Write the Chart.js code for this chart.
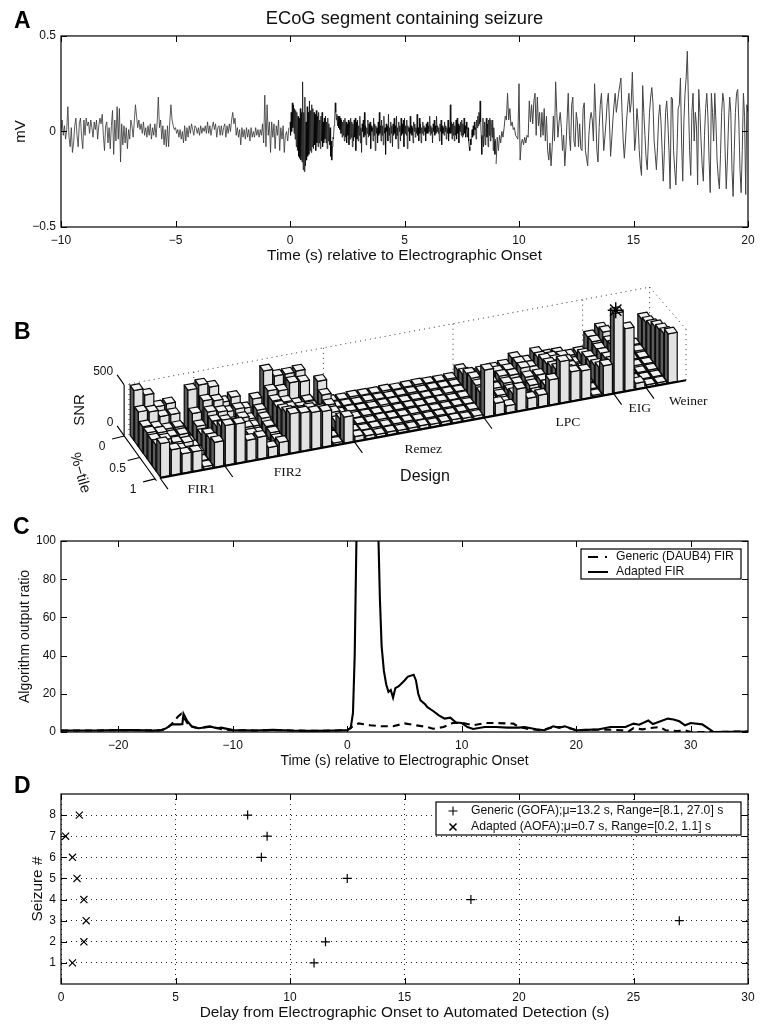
<!DOCTYPE html>
<html lang="en">
<head>
<meta charset="UTF-8">
<title>ECoG segment containing seizure</title>
<script src="https://cdn.jsdelivr.net/npm/chart.js"></script>
<style>
    html, body { margin: 0; padding: 0; background: #fff; overflow: hidden; }
    canvas { position: absolute; left: 0; display: block; }
    #chartA { top: 0; }
    #chartB { top: 270px; }
    #chartC { top: 510px; }
    #chartD { top: 770px; }
    .tag { position: absolute; font: bold 23px/23px "Liberation Sans", Arial, sans-serif; color: #000; }
</style>
</head>
<body>
<canvas id="chartA" width="770" height="270"></canvas>
<canvas id="chartB" width="770" height="240"></canvas>
<canvas id="chartC" width="770" height="260"></canvas>
<canvas id="chartD" width="770" height="263"></canvas>
<div class="tag" style="left:14px;top:9px">A</div>
<div class="tag" style="left:14px;top:320px">B</div>
<div class="tag" style="left:13px;top:515px">C</div>
<div class="tag" style="left:14px;top:774px">D</div>

<script>
// Panel A: ECoG trace in three stretches, one line per second of recording
const ecogEarlyStart = -10, ecogEarlyStep = 0.05;
const ecogEarly = [
    0,.06,-.02,.03,-.04,.01,.13,-.03,-.08,.02,-.11,-.06,.03,.07,-.02,-.08,.04,.07,-.03,-.09,
    .06,-.02,.07,.03,.05,-.01,.06,.02,-.03,.05,.01,.06,-.04,.03,.07,.04,.09,-.02,-.1,.03,
    .05,-.06,.02,-.09,.03,.11,-.12,.06,-.05,.13,-.04,.12,-.16,.04,-.07,.03,-.06,.02,-.09,.01,
    -.04,.06,.03,-.03,.05,.14,.08,.02,.06,.01,.04,-.01,.05,-.02,.02,-.03,.03,-.02,.04,-.04,
    .02,-.02,.04,-.03,.05,.18,.02,.06,-.04,.03,-.07,.01,-.08,.03,-.08,.05,.14,.06,.03,.01,
    .02,-.01,.01,-.03,.01,-.04,0,-.06,.03,-.05,.02,-.03,.03,-.01,.04,.01,-.02,.03,.02,-.01,
    .02,-.02,.03,-.01,.02,0,.03,-.01,.05,-.01,.03,-.02,.02,.05,.01,.04,-.03,.02,.03,-.02,
    .03,-.02,.02,.04,-.03,.03,-.01,.04,0,.06,.1,.04,.07,-.02,.02,-.03,.01,-.07,.02,-.03,
    .01,-.04,.02,-.03,.01,-.05,.02,-.03,0,-.03,.02,-.02,.01,-.03,.01,-.02,.04,-.06,.19,-.08,
    .14,-.02,.05,-.11,.05,-.03,.04,-.09,.03,-.02,.06,-.1,.02,-.04,.03,-.11,-.02,0,-.05,.02
];
const ecogDenseStart = 0, ecogDenseStep = 0.025;
const ecogDense = [
    .05,-.02,.1,0,.15,.02,.14,-.01,.12,-.04,.11,-.08,.1,-.1,.08,-.13,.07,-.14,.12,-.15,.1,-.16,.26,-.2,.1,-.21,.18,-.18,.05,-.15,.13,-.13,.1,-.12,.16,-.1,.11,-.11,.14,-.08,
    .12,-.09,.1,-.07,.09,-.1,.11,-.06,.08,-.08,.1,-.06,.06,-.09,.08,-.05,.1,-.08,.05,-.06,.07,-.04,.08,-.06,.05,-.09,.07,-.05,.04,-.07,.02,-.13,-.05,-.15,-.08,-.03,-.04,.03,.06,.15,
    .1,.06,.09,.03,.08,.02,.08,.01,.07,-.01,.06,-.03,.05,-.02,.06,-.05,.07,-.03,.05,-.06,.04,-.02,.06,-.07,.05,-.04,.07,-.03,.05,-.08,.04,-.05,.06,-.03,.07,-.1,.05,-.04,.06,-.05,
    .03,-.02,.08,-.06,.02,-.11,.04,0,.06,-.03,.1,-.02,.03,-.07,.02,-.01,.06,-.03,.04,-.02,.05,-.09,.03,0,.02,-.05,.07,-.02,.04,-.1,.03,-.01,.02,-.06,.05,-.02,.1,-.01,.03,-.05,
    .06,-.02,.03,-.07,.08,-.01,.02,-.12,.04,0,.03,-.05,.09,-.02,.02,-.06,.05,-.01,.03,-.08,.04,-.02,.07,-.01,.03,-.04,.08,-.02,.02,-.09,.05,0,.03,-.05,.07,-.02,.04,-.01,.06,-.08,
    .07,-.01,.03,-.02,.06,-.09,.03,0,.02,-.05,.08,-.01,.03,-.02,.02,-.06,.05,0,.04,-.03,.02,-.01,.09,-.02,.02,-.05,.07,-.01,.04,-.06,.02,-.01,.05,-.02,.03,0,.02,-.05,.04,-.01,
    .05,-.01,.03,0,.08,-.02,.03,-.01,.02,-.06,.04,0,.06,-.02,.03,-.01,.08,0,.03,-.01,.02,-.05,.04,0,.06,-.07,.03,-.01,.02,-.02,.05,0,.03,-.04,.02,-.01,.06,-.05,.02,-.01,
    .14,-.01,.05,-.04,.04,-.02,.05,-.05,.03,-.02,.06,-.04,.07,-.01,.04,-.06,.03,0,.05,-.02,.06,-.03,.04,-.02,.07,-.01,.03,-.03,.05,.01,-.03,.02,-.05,-.08,-.1,-.04,-.07,-.02,.01,-.03,
    .03,-.02,.05,.01,.02,-.04,.06,.02,.08,.03,.1,.04,.16,.05,-.02,-.12,-.03,.07,-.08,-.02,.05,-.07,.02,.07,-.03,.04,-.08,.06,-.02,.07,-.05,.06,.02,-.03,.06,-.1,.02,-.05,-.12,-.04
];
const ecogLateStart = 9, ecogLateStep = 0.05;
const ecogLate = [
    -.17,-.03,-.1,-.02,-.06,0,-.03,.02,.08,.06,.2,.06,.12,.03,.05,.01,.02,-.02,-.03,-.04,
    .25,-.15,-.06,-.04,-.07,-.03,-.06,-.02,-.03,.16,.05,.14,.04,.16,.2,-.02,.18,.03,.1,-.03,
    .1,-.02,.12,-.05,.08,-.1,-.15,-.06,-.18,-.08,.08,-.05,.26,.1,-.03,.05,.1,.02,-.1,-.02,
    -.18,-.08,.06,.2,-.02,-.1,.14,.18,-.05,-.08,.1,.05,-.08,.04,-.09,-.1,.12,.15,-.1,-.14,
    -.18,-.02,.06,.1,.06,-.05,.25,.1,-.1,-.16,.02,.14,.2,.06,-.1,-.03,.05,.15,.2,.05,
    -.13,-.04,.06,.14,.2,.1,.15,.2,.24,.28,.1,-.05,-.14,-.05,.06,.14,.2,.1,.15,.31,
    .1,-.1,-.03,.12,.05,-.1,-.18,-.23,.24,.1,-.02,-.14,-.2,-.05,.1,.18,.23,.15,-.05,-.12,
    -.2,-.08,.08,.14,.05,-.1,-.26,-.1,.1,.16,.05,-.1,-.3,.18,.17,-.1,-.2,-.28,-.1,.12,
    .14,.28,-.05,-.26,.05,.2,.28,.42,.15,-.1,-.23,.1,.2,-.05,.1,.03,-.28,.22,.1,-.05,
    -.18,-.26,-.02,.12,.2,.08,-.15,-.32,.2,.1,-.05,.2,.05,-.15,-.24,-.3,-.12,.1,.2,.15,
    -.1,-.3,-.15,.05,.18,.1,-.2,-.34,-.1,.1,.2,.22,.05,-.2,-.32,-.1,.2,.08,-.33,.14,
    .1
];
const ecogTimeTicks = [-10, -5, 0, 5, 10, 15, 20];
const ecogVoltTicks = [-0.5, 0, 0.5];

// Panel B: SNR per design (columns) and percentile row, back row first
const designNames = ["FIR1", "FIR2", "Remez", "LPC", "EIG", "Weiner"];
const designCenters = [3, 12, 24, 36, 43.5, 46.5];
const designTicks = [0, 6, 18, 30, 42, 45];
const percentileTicks = [0, 0.5, 1];
const snrTicks = [0, 500];
const snrRow0 = [490,425,290,300,30,395, 425,385,215,245,115,190,445,375,375,385,50,245, 28,26,33,30,28,32,26,30,33,28,26,30, 95,30,40,50,60,115,60,125,80,80,40,50, 190,245,40, 30,30,265];
const snrRow1 = [340,320,255,255,30,225, 330,310,180,190,70,140,310,290,350,340,35,170, 30,28,26,32,30,26,28,32,26,30,28,26, 120,40,50,80,80,130,70,140,120,110,30,90, 200,275,30, 25,30,290];
const snrRow2 = [255,225,190,190,30,160, 280,260,130,160,60,120,270,240,200,210,30,130, 26,32,28,26,33,30,26,28,30,26,32,28, 180,50,60,100,90,140,80,180,150,130,25,130, 190,240,30, 25,25,320];
const snrRow3 = [255,235,180,180,40,140, 250,230,110,130,50,100,270,240,220,210,25,120, 32,26,30,28,26,28,33,26,28,32,26,30, 200,50,60,90,70,110,110,200,170,130,25,140, 200,260,25, 25,25,370];
const snrRow4 = [245,225,180,160,50,200, 260,240,100,120,50,100,300,260,250,240,20,90, 28,30,26,33,28,26,30,32,26,28,30,26, 190,60,50,80,50,90,120,230,190,150,20,170, 220,300,25, 20,25,400];
const snrRow5 = [255,190,170,130,20,215, 320,290,140,120,45,90,340,320,330,300,20,180, 40,28,32,26,30,33,26,28,32,26,28,32, 180,40,40,110,40,70,130,270,230,180,15,210, 240,350,25, 20,20,425];
const snrRow6 = [330,250,190,190,25,245, 390,385,205,215,95,125,385,375,360,350,20,255, 45,33,26,30,26,28,32,26,30,33,26,28, 460,115,70,215,105,115,245,405,285,275,15,285, 780,610,55, 20,20,480];
const snrRows = [snrRow0, snrRow1, snrRow2, snrRow3, snrRow4, snrRow5, snrRow6];

// Panel C: algorithm output ratio
const adaptedTimes = [-25,-22,-20,-18.5,-17,-16.2,-15.8,-15.3,-14.6,-14.4,-14.3,-14,-13.6,-13,-12.3,-11.9,-11.4,-11,-10,-8,-6.5,-5,-3,-1,0,.3,.5,.65,.8,1,2.5,2.73,2.85,3,3.2,3.4,3.6,3.8,4,4.2,4.5,5,5.3,5.8,6,6.2,6.4,6.8,7,7.5,8,8.5,9,9.5,10,10.5,11,12,13,14,15,15.5,16.5,17.2,18,18.5,19,20,21,22,23,24.3,25,25.5,26.3,26.7,27,28,28.5,29,29.5,30,31,31.5,32,35];
const adaptedValues = [.8,.8,1,1,.7,1,2,4,4,4.2,9.5,6,3,2,2.5,2.8,2,2.3,1,.8,1.2,.8,.6,.8,1,2,10,40,100,220,160,100,70,45,32,25,21,22,18,23,24,27,29,30,27,20,16.6,14.5,13,11,8.7,7,7.5,5,4.7,2.6,1.6,2.6,2.6,2.3,2.3,2.6,1.4,.9,3,2.2,3,.9,1.1,1.4,2.6,2.6,4.4,3.8,6,4.2,4.8,7,6.5,5.6,3.5,4.7,4,2,0,.3];
const genericTimes = [-25,-22,-20,-18,-16.5,-15.8,-15.2,-14.8,-14.5,-14.2,-13.8,-13,-12,-11,-10,-8,-6,-4,-2,0,.5,1,1.5,2,3,4,5,6,7,7.5,8.4,9.2,10,11,12,13,14.5,15,16,17,18,19,20,21,23,24,24.5,25,25.8,26.4,27.3,27.8,28.8,29.5,30,32,35];
const genericValues = [.8,.8,1,.9,.8,1.5,5,8,9.5,7,3,2,3,1.5,1,.8,1,.7,.6,1,3,4.5,4,3.5,3,3,4.5,3.5,2.6,1.7,2.6,4.7,4.8,3.5,4.7,4.7,4.4,2.6,1.4,.9,2.6,2.6,.9,1.2,1.2,.9,0,2,1.4,2,2.6,.9,.5,.9,0,0,.3];
const ratioTimeTicks = [-20, -10, 0, 10, 20, 30];
const ratioTicks = [0, 20, 40, 60, 80, 100];
const ratioLegend = ["Generic (DAUB4) FIR", "Adapted FIR"];

// Panel D: detection delay per seizure
const seizureNumbers = [1, 2, 3, 4, 5, 6, 7, 8];
const genericDelays = [11.05, 11.55, 27.0, 17.9, 12.5, 8.75, 9.0, 8.15];
const adaptedDelays = [0.5, 1.0, 1.1, 1.0, 0.7, 0.5, 0.2, 0.8];
const delayTicks = [0, 5, 10, 15, 20, 25, 30];
const delayLegend = ["Generic (GOFA);\u03bc=13.2 s, Range=[8.1, 27.0] s", "Adapted (AOFA);\u03bc=0.7 s, Range=[0.2, 1.1] s"];

const sans = '"Liberation Sans", Arial, sans-serif';
const serif = '"Liberation Serif", "Times New Roman", serif';
Chart.defaults.animation = false;
Chart.defaults.responsive = false;
Chart.defaults.devicePixelRatio = 1;
Chart.defaults.color = "#111";
Chart.defaults.font.family = sans;
Chart.defaults.plugins.legend.display = false;
Chart.defaults.plugins.tooltip.enabled = false;

const minusLabel = v => (v < 0 ? "\u2212" + Math.abs(v) : String(v));

// fixed-size axis so the plot box lands where the reference has it
function makeAxis(o) {
    const axis = {
        type: "linear",
        min: o.min,
        max: o.max,
        grid: { display: false, drawTicks: false },
        border: { display: false },
        ticks: { font: { size: 12 }, padding: o.tickPad, maxRotation: 0, autoSkip: false, callback: minusLabel },
        title: { display: true, text: o.title, font: { size: o.titleSize }, padding: o.titleOffset },
        afterBuildTicks: s => { s.ticks = o.ticks.map(v => ({ value: v })); }
    };
    if (o.height) axis.afterFit = s => { s.height = o.height; };
    if (o.width) axis.afterFit = s => { s.width = o.width; };
    if (o.dotted) {
        axis.grid = { display: true, drawTicks: false, color: "#222", lineWidth: 1 };
        axis.border = { display: false, dash: [1, 4] };
    }
    return axis;
}

// MATLAB style box with inward ticks on all four sides
const boxTicks = {
    id: "boxTicks",
    afterDraw(chart) {
        const { ctx, chartArea: a, scales } = chart;
        ctx.save();
        ctx.strokeStyle = "#000";
        ctx.lineWidth = 1;
        ctx.beginPath();
        scales.x.ticks.forEach(t => {
            const p = Math.round(scales.x.getPixelForValue(t.value)) + 0.5;
            ctx.moveTo(p, a.top); ctx.lineTo(p, a.top + 6);
            ctx.moveTo(p, a.bottom); ctx.lineTo(p, a.bottom - 6);
        });
        scales.y.ticks.forEach(t => {
            const p = Math.round(scales.y.getPixelForValue(t.value)) + 0.5;
            ctx.moveTo(a.left, p); ctx.lineTo(a.left + 6, p);
            ctx.moveTo(a.right, p); ctx.lineTo(a.right - 6, p);
        });
        ctx.stroke();
        ctx.lineWidth = 1.2;
        ctx.strokeRect(a.left, a.top, a.right - a.left, a.bottom - a.top);
        ctx.restore();
    }
};

function drawLegendBox(chart, box, labels, size, drawKey) {
    const ctx = chart.ctx;
    ctx.save();
    ctx.fillStyle = "#fff";
    ctx.fillRect(box.x, box.y, box.w, box.h);
    ctx.strokeStyle = "#000";
    ctx.lineWidth = 1.2;
    ctx.strokeRect(box.x, box.y, box.w, box.h);
    ctx.fillStyle = "#111";
    ctx.font = size + "px " + sans;
    ctx.textBaseline = "middle";
    labels.forEach((text, i) => {
        const y = box.y + box.first + i * box.gap;
        ctx.fillText(text, box.x + box.textX, y);
        drawKey(ctx, i, box.x, y);
    });
    ctx.restore();
}

// ---- A
const traceData = (values, start, step) => values.map((v, i) => ({ x: start + i * step, y: v }));
new Chart(document.getElementById("chartA"), {
    type: "scatter",
    data: {
        datasets: [
            { data: traceData(ecogEarly, ecogEarlyStart, ecogEarlyStep), showLine: true, pointRadius: 0, borderColor: "#333", borderWidth: 0.8 },
            { data: traceData(ecogDense, ecogDenseStart, ecogDenseStep), showLine: true, pointRadius: 0, borderColor: "#000", borderWidth: 0.7 },
            { data: traceData(ecogLate, ecogLateStart, ecogLateStep), showLine: true, pointRadius: 0, borderColor: "#444", borderWidth: 1 }
        ]
    },
    options: {
        layout: { padding: { right: 22 } },
        plugins: {
            title: {
                display: true,
                text: "ECoG segment containing seizure",
                fullSize: false,
                font: { size: 18.3, weight: "normal" },
                color: "#111",
                padding: { top: 8, bottom: 6 }
            }
        },
        scales: {
            x: makeAxis({ min: -10, max: 20, ticks: ecogTimeTicks, title: "Time (s) relative to Electrographic Onset", titleSize: 15.4, titleOffset: 5, tickPad: 6, height: 43 }),
            y: makeAxis({ min: -0.5, max: 0.5, ticks: ecogVoltTicks, title: "mV", titleSize: 15, titleOffset: 12, tickPad: 5, width: 61 })
        }
    },
    plugins: [boxTicks]
});

// ---- B: oblique 3D bars. Column and row move along the two chart scales.
const rowRun = 0.41;      // x units per row toward the viewer
const rowDrop = 60.2;     // y units per row toward the viewer
const colRise = 19.7;     // y units per column to the right
const boxEnd = 48.7;
const lastRow = snrRows.length;

const projectX = (c, r) => c + r * rowRun;
const projectY = (c, r, z) => z + c * colRise - r * rowDrop;

let bestRow = 0, bestCol = 0;
snrRows.forEach((row, r) => row.forEach((v, c) => {
    if (v > snrRows[bestRow][bestCol]) { bestRow = r; bestCol = c; }
}));

const bars3d = {
    id: "bars3d",
    beforeDatasetsDraw(chart) {
        const { ctx, scales: { x, y } } = chart;
        const px = (c, r, z) => [x.getPixelForValue(projectX(c, r)), y.getPixelForValue(projectY(c, r, z))];
        const line = (a, b) => { ctx.moveTo(a[0], a[1]); ctx.lineTo(b[0], b[1]); };
        const face = (pts, fill) => {
            ctx.beginPath();
            pts.forEach((p, i) => (i ? ctx.lineTo(p[0], p[1]) : ctx.moveTo(p[0], p[1])));
            ctx.closePath();
            ctx.fillStyle = fill;
            ctx.fill();
            ctx.stroke();
        };

        ctx.save();
        // dotted back walls
        ctx.strokeStyle = "#333";
        ctx.lineWidth = 1;
        ctx.setLineDash([1, 4]);
        ctx.beginPath();
        line(px(0, 0, 0), px(0, 0, 500));
        line(px(0, 0, 500), px(boxEnd - 0.5, 0, 500));
        line(px(boxEnd - 0.5, 0, 500), px(boxEnd, lastRow, 500));
        line(px(boxEnd, lastRow, 500), px(boxEnd, lastRow, 0));
        [6, 18, 30, 42, boxEnd - 0.5].forEach(c => line(px(c, 0, 0), px(c, 0, 500)));
        ctx.stroke();
        ctx.setLineDash([]);

        // back rows first, right columns first, so nearer bars cover farther ones
        ctx.strokeStyle = "#0a0a0a";
        ctx.lineWidth = 1.2;
        ctx.lineJoin = "round";
        snrRows.forEach((row, r) => {
            for (let c = row.length - 1; c >= 0; c--) {
                const z = row[c];
                const c0 = c + 0.08, c1 = c + 0.92, r0 = r + 0.08, r1 = r + 0.92;
                face([px(c0, r0, 0), px(c0, r1, 0), px(c0, r1, z), px(c0, r0, z)], "#5c5c5c");
                face([px(c0, r1, 0), px(c1, r1, 0), px(c1, r1, z), px(c0, r1, z)], "#e2e2e2");
                face([px(c0, r0, z), px(c1, r0, z), px(c1, r1, z), px(c0, r1, z)], "#f2f2f2");
            }
        });

        // axes and ticks
        ctx.strokeStyle = "#000";
        ctx.lineWidth = 2;
        ctx.beginPath();
        line(px(0, lastRow, 0), px(boxEnd, lastRow, 0));
        ctx.stroke();
        ctx.lineWidth = 1.1;
        ctx.beginPath();
        line(px(-0.45, 0, 0), px(-0.45, 0, 500));
        line(px(-0.45, 0, 0), px(-0.45, lastRow + 0.3, 0));
        designTicks.forEach(c => line(px(c, lastRow, 0), px(c, lastRow + 1.8, 0)));
        percentileTicks.forEach(p => {
            const a = px(-0.45, p * lastRow, 0);
            line(a, [a[0] - 12, a[1] + 3]);
        });
        snrTicks.forEach(v => {
            const a = px(-0.45, 0, v);
            line(a, [a[0] - 7, a[1] - 10]);
        });
        ctx.stroke();
        ctx.restore();
    },
    afterDraw(chart) {
        const { ctx, scales: { x, y } } = chart;
        const px = (c, r, z) => [x.getPixelForValue(projectX(c, r)), y.getPixelForValue(projectY(c, r, z))];
        const designShift = [[9, 17], [-2, 19], [4, 20], [19, 17], [10, 18], [26, 17]];
        ctx.save();
        ctx.fillStyle = "#111";
        ctx.textAlign = "center";
        ctx.textBaseline = "middle";
        ctx.font = "13.5px " + serif;
        designNames.forEach((name, i) => {
            const p = px(designCenters[i], lastRow, 0);
            ctx.fillText(name, p[0] + designShift[i][0], p[1] + designShift[i][1]);
        });
        ctx.font = "12px " + sans;
        percentileTicks.forEach(p => {
            const a = px(-0.45, p * lastRow, 0);
            ctx.fillText(String(p), a[0] - 22, a[1] + 11);
        });
        snrTicks.forEach(v => {
            const a = px(-0.45, 0, v);
            ctx.fillText(String(v), a[0] - (v ? 21 : 14), a[1] - 13);
        });
        ctx.font = "16px " + sans;
        ctx.fillText("Design", 425, 207);
        ctx.font = "15px " + sans;
        ctx.save();
        ctx.translate(80, 140);
        ctx.rotate(-Math.PI / 2);
        ctx.fillText("SNR", 0, 0);
        ctx.restore();
        ctx.save();
        ctx.translate(80, 203);
        ctx.rotate(74 * Math.PI / 180);
        ctx.fillText("%\u2212tile", 0, 0);
        ctx.restore();
        ctx.restore();
    }
};

new Chart(document.getElementById("chartB"), {
    type: "scatter",
    data: {
        datasets: [{
            // the best design gets a star on top of its bar
            data: [{
                x: projectX(bestCol + 0.4, bestRow + 0.5),
                y: projectY(bestCol + 0.4, bestRow + 0.5, snrRows[bestRow][bestCol])
            }],
            pointStyle: "star",
            pointRadius: 8,
            borderColor: "#000",
            borderWidth: 1.4,
            clip: false
        }]
    },
    options: {
        layout: { padding: { left: 129, right: 84, top: 16, bottom: 30 } },
        scales: {
            x: { type: "linear", display: false, min: 0, max: 51.57 },
            y: { type: "linear", display: false, min: -441, max: 1461 }
        }
    },
    plugins: [bars3d]
});

// ---- C
const toXY = (xs, ys) => xs.map((v, i) => ({ x: v, y: ys[i] }));
new Chart(document.getElementById("chartC"), {
    type: "scatter",
    data: {
        datasets: [
            { data: toXY(genericTimes, genericValues), showLine: true, pointRadius: 0, borderColor: "#000", borderWidth: 2.1, borderDash: [7, 5] },
            { data: toXY(adaptedTimes, adaptedValues), showLine: true, pointRadius: 0, borderColor: "#000", borderWidth: 2.1 }
        ]
    },
    options: {
        layout: { padding: { top: 31, right: 22 } },
        scales: {
            x: makeAxis({ min: -25, max: 35, ticks: ratioTimeTicks, title: "Time (s) relative to Electrographic Onset", titleSize: 13.9, titleOffset: 0, tickPad: 6, height: 38 }),
            y: makeAxis({ min: 0, max: 100, ticks: ratioTicks, title: "Algorithm output ratio", titleSize: 14, titleOffset: 17, tickPad: 5, width: 61 })
        }
    },
    plugins: [boxTicks, {
        id: "ratioLegend",
        afterDraw(chart) {
            drawLegendBox(chart, { x: 581, y: 39, w: 160, h: 30, first: 8, gap: 15, textX: 35 }, ratioLegend, 12.2, (ctx, i, x, y) => {
                ctx.strokeStyle = "#000";
                ctx.lineWidth = 2;
                ctx.setLineDash(i === 0 ? [10, 7, 2, 6] : []);
                ctx.beginPath();
                ctx.moveTo(x + 7, y);
                ctx.lineTo(x + 27, y);
                ctx.stroke();
                ctx.setLineDash([]);
            });
        }
    }]
});

// ---- D
new Chart(document.getElementById("chartD"), {
    type: "scatter",
    data: {
        datasets: [
            { data: toXY(genericDelays, seizureNumbers), pointStyle: "cross", pointRadius: 4.5, borderColor: "#000", borderWidth: 1.2, clip: false },
            { data: toXY(adaptedDelays, seizureNumbers), pointStyle: "crossRot", pointRadius: 5, borderColor: "#000", borderWidth: 1.2, clip: false }
        ]
    },
    options: {
        layout: { padding: { top: 24, right: 22 } },
        scales: {
            x: makeAxis({ min: 0, max: 30, ticks: delayTicks, title: "Delay from Electrographic Onset to Automated Detection (s)", titleSize: 15.4, titleOffset: 11, tickPad: 6, height: 49, dotted: true }),
            y: makeAxis({ min: 0, max: 9, ticks: seizureNumbers, title: "Seizure #", titleSize: 15.4, titleOffset: 29, tickPad: 5, width: 61, dotted: true })
        }
    },
    plugins: [boxTicks, {
        id: "delayLegend",
        afterDraw(chart) {
            drawLegendBox(chart, { x: 436, y: 32, w: 305, h: 33, first: 9, gap: 16, textX: 35 }, delayLegend, 12.2, (ctx, i, x, y) => {
                const r = i === 0 ? 4.5 : 3.5;
                ctx.strokeStyle = "#000";
                ctx.lineWidth = i === 0 ? 1.1 : 1.6;
                ctx.beginPath();
                if (i === 0) {
                    ctx.moveTo(x + 17 - r, y); ctx.lineTo(x + 17 + r, y);
                    ctx.moveTo(x + 17, y - r); ctx.lineTo(x + 17, y + r);
                } else {
                    ctx.moveTo(x + 17 - r, y - r); ctx.lineTo(x + 17 + r, y + r);
                    ctx.moveTo(x + 17 - r, y + r); ctx.lineTo(x + 17 + r, y - r);
                }
                ctx.stroke();
            });
        }
    }]
});
</script>
</body>
</html>
